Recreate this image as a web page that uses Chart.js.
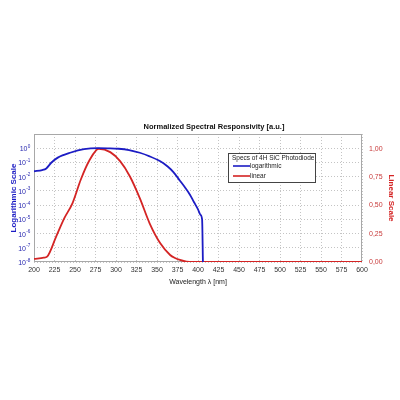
<!DOCTYPE html>
<html>
<head>
<meta charset="utf-8">
<script src="https://cdn.jsdelivr.net/npm/chart.js@4/dist/chart.umd.min.js"></script>
<style>
html,body{margin:0;padding:0;background:#fff;}
canvas{display:block;}
</style>
</head>
<body>
<canvas id="c" width="400" height="400"></canvas>
<script>
// ---- Data ----
const chartTitle = "Normalized Spectral Responsivity [a.u.]";
const xTitle = "Wavelength \u03bb [nm]";
const leftTitle = "Logarithmic Scale";
const rightTitle = "Linear Scale";
const legendTitle = "Specs of 4H SiC Photodiode";
const seriesNames = ["logarithmic", "linear"];

const xTicks = [200,225,250,275,300,325,350,375,400,425,450,475,500,525,550,575,600];
const logTicks = [1e-8,1e-7,1e-6,1e-5,1e-4,1e-3,1e-2,1e-1,1e0];
const logTickBase = "10";
const logTickExponents = ["-8","-7","-6","-5","-4","-3","-2","-1","0"];
const linTicks = [0,0.25,0.5,0.75,1.0];
const linTickLabels = ["0,00","0,25","0,50","0,75","1,00"];

const wavelengthLog = [200,210,215,221,229,245,261,278,290,303,316,329,341,354,363,370,378,384,390,395,400,403,405,406];
const logResp = [0.024,0.0288,0.038,0.0955,0.219,0.50,0.85,1.0,0.98,0.92,0.74,0.48,0.27,0.120,0.052,0.021,0.0052,0.0018,0.00056,0.000165,0.00005,0.0000209,0.00001,0.00000001];

const wavelengthLin = [200,212,216,227,237,247,257,267,279,293,305,317,329,341,354,366,372,378,386,395,600];
const linResp = [0.027,0.038,0.047,0.224,0.387,0.52,0.726,0.889,1.0,0.97,0.89,0.755,0.564,0.342,0.165,0.062,0.035,0.018,0.003,0,0];

const BLUE = '#1c1cc4';
const RED = '#d42424';
const FONT = 'Liberation Sans, Arial, sans-serif';

const logData = wavelengthLog.map((x,i)=>({x:x,y:logResp[i]}));
const linData = wavelengthLin.map((x,i)=>({x:x,y:linResp[i]}));

const decor = {
  id:'decor',
  beforeDatasetsDraw(chart){
    const {ctx, chartArea:a} = chart;
    ctx.save();
    ctx.strokeStyle='#a8a8a8';
    ctx.lineWidth=1;
    ctx.strokeRect(a.left+0.5,a.top+0.5,a.right-a.left-1,a.bottom-a.top-1);
    ctx.restore();
  },
  afterDraw(chart){
    const {ctx} = chart;
    const ys = chart.scales.y;
    ctx.save();
    // log tick labels: 10 with superscript exponent
    ctx.fillStyle='#2a2ab0';
    ctx.textBaseline='alphabetic';
    ctx.textAlign='left';
    logTicks.forEach((v,i)=>{
      const py = ys.getPixelForValue(v);
      ctx.font='4.6px '+FONT;
      const ew = ctx.measureText(logTickExponents[i]).width;
      ctx.font='7px '+FONT;
      const bw = ctx.measureText(logTickBase).width;
      const right = 30;
      const x0 = right - ew - bw;
      ctx.fillText(logTickBase, x0, py+3);
      ctx.font='4.6px '+FONT;
      ctx.fillText(logTickExponents[i], x0+bw+0.3, py-0.5);
    });
    // title
    ctx.fillStyle='#111';
    ctx.font='bold 7.5px '+FONT;
    ctx.textAlign='center';
    ctx.textBaseline='middle';
    ctx.fillText(chartTitle, 214, 127);
    // legend
    const lx=228, ly=153, lw=87, lh=29;
    ctx.fillStyle='#fff';
    ctx.fillRect(lx,ly,lw,lh);
    ctx.strokeStyle='#444';
    ctx.lineWidth=1;
    ctx.strokeRect(lx+0.5,ly+0.5,lw,lh);
    ctx.fillStyle='#222';
    ctx.font='6.5px '+FONT;
    ctx.textAlign='left';
    ctx.fillText(legendTitle, lx+4, ly+5.5);
    const cols=[BLUE,RED];
    seriesNames.forEach((n,i)=>{
      const y = ly+13+i*10;
      ctx.strokeStyle=cols[i];
      ctx.lineWidth=1.6;
      ctx.beginPath(); ctx.moveTo(lx+5,y); ctx.lineTo(lx+22,y); ctx.stroke();
      ctx.fillStyle='#222';
      ctx.fillText(n, lx+22, y);
    });
    ctx.restore();
  }
};

new Chart(document.getElementById('c'), {
  type:'line',
  data:{datasets:[
    {label:seriesNames[0], data:logData, yAxisID:'y', borderColor:BLUE, borderWidth:1.8, pointRadius:0, cubicInterpolationMode:'monotone', fill:false},
    {label:seriesNames[1], data:linData, yAxisID:'y1', borderColor:RED, borderWidth:1.8, pointRadius:0, cubicInterpolationMode:'monotone', fill:false}
  ]},
  options:{
    responsive:false, animation:false,
    layout:{padding:{top:134,bottom:114,left:9,right:4}},
    plugins:{legend:{display:false}, title:{display:false}, tooltip:{enabled:false}},
    scales:{
      x:{type:'linear', min:200, max:600,
        afterBuildTicks(s){ s.ticks = xTicks.map(v=>({value:v})); },
        ticks:{color:'#333', font:{family:FONT,size:7}, padding:4, maxRotation:0, autoSkip:false, callback:v=>String(v)},
        grid:{color:'#c4c4c4', drawTicks:false, tickLength:0},
        border:{display:false, dash:[1,2]},
        title:{display:true, text:xTitle, color:'#222', font:{family:FONT,size:7}, padding:{top:1,bottom:0}},
        afterFit(s){ s.height=24; }
      },
      y:{type:'logarithmic', position:'left', min:1e-8, max:10,
        afterBuildTicks(s){ s.ticks = logTicks.map(v=>({value:v})); },
        ticks:{display:false},
        grid:{color:'#c4c4c4', drawTicks:false},
        border:{display:false, dash:[1,2]},
        title:{display:true, text:leftTitle, color:BLUE, font:{family:FONT,size:8,weight:'bold'}, padding:{top:0,bottom:0}},
        afterFit(s){ s.width=25; }
      },
      y1:{type:'linear', position:'right', min:0, max:1.13,
        afterBuildTicks(s){ s.ticks = linTicks.map(v=>({value:v})); },
        ticks:{color:'#c83a3a', font:{family:FONT,size:7}, padding:7, autoSkip:false,
          callback:(v)=>{ const i = linTicks.findIndex(t=>Math.abs(t-v)<1e-6); return i>=0?linTickLabels[i]:''; }},
        grid:{drawOnChartArea:false, drawTicks:false},
        border:{display:false},
        title:{display:true, text:rightTitle, color:RED, font:{family:FONT,size:8,weight:'bold'}, padding:{top:0,bottom:2}},
        afterFit(s){ s.width=34; }
      }
    }
  },
  plugins:[decor]
});
</script>
</body>
</html>
